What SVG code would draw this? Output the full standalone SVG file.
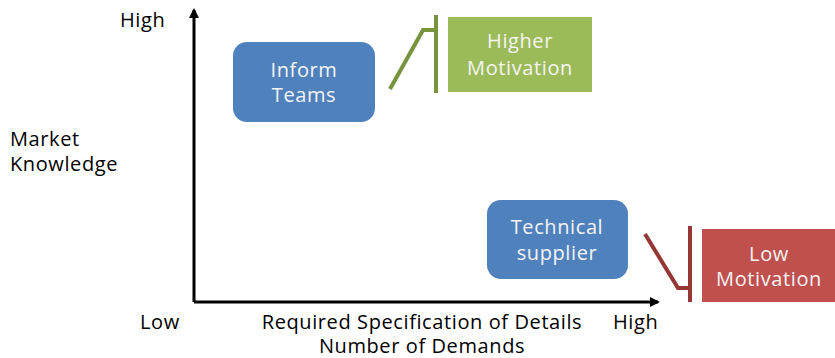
<svg xmlns="http://www.w3.org/2000/svg" width="835" height="358" viewBox="0 0 835 358">
<style>
text{font-family:"Open Sans","Noto Sans",sans-serif;font-size:20px;letter-spacing:0.6px;}
.lbl{fill:#000;}
.w{fill:#f4f4f4;text-anchor:middle;}
.axis{stroke:#000;stroke-width:3;fill:none;}
</style>
<defs>
<marker id="ah" markerWidth="10" markerHeight="10" refX="8" refY="5" orient="auto" markerUnits="userSpaceOnUse">
<path d="M0,0 L10,5 L0,10 z" fill="#000"/>
</marker>
</defs>
<rect width="835" height="358" fill="#fff"/>
<g id="connectors">
<path class="axis" d="M194,302 L194,10" marker-end="url(#ah)"/>
<path class="axis" d="M194,302 L658,302" marker-end="url(#ah)"/>
<path d="M390,89 L423,30 L436,30 M436,15 L436,93" stroke="#77933C" stroke-width="4" fill="none"/>
<path d="M645,234 L678,288 L690,288 M690,226 L690,302" stroke="#953735" stroke-width="4" fill="none"/>
</g>
<g id="labels">
<text class="lbl" x="120" y="27">High</text>
<text class="lbl" x="10" y="146">Market</text>
<text class="lbl" x="10" y="171">Knowledge</text>
<text class="lbl" x="140" y="329">Low</text>
<text class="lbl" x="422" y="329" text-anchor="middle">Required Specification of Details</text>
<text class="lbl" x="613" y="329">High</text>
<text class="lbl" x="422" y="353" text-anchor="middle">Number of Demands</text>
</g>
<g id="inform">
<rect x="233" y="42" width="142" height="80" rx="14" fill="#4F81BD"/>
<text class="w" x="304" y="77">Inform</text>
<text class="w" x="304" y="102">Teams</text>
</g>
<g id="higher">
<rect x="448" y="17" width="144" height="75" fill="#9BBB59"/>
<text class="w" x="520" y="48">Higher</text>
<text class="w" x="520" y="75">Motivation</text>
</g>
<g id="technical">
<rect x="487" y="200" width="141" height="79" rx="14" fill="#4F81BD"/>
<text class="w" x="557" y="234">Technical</text>
<text class="w" x="557" y="260">supplier</text>
</g>
<g id="low">
<rect x="702" y="229" width="133" height="73" fill="#C0504D"/>
<text class="w" x="769" y="261">Low</text>
<text class="w" x="769" y="286">Motivation</text>
</g>
</svg>
